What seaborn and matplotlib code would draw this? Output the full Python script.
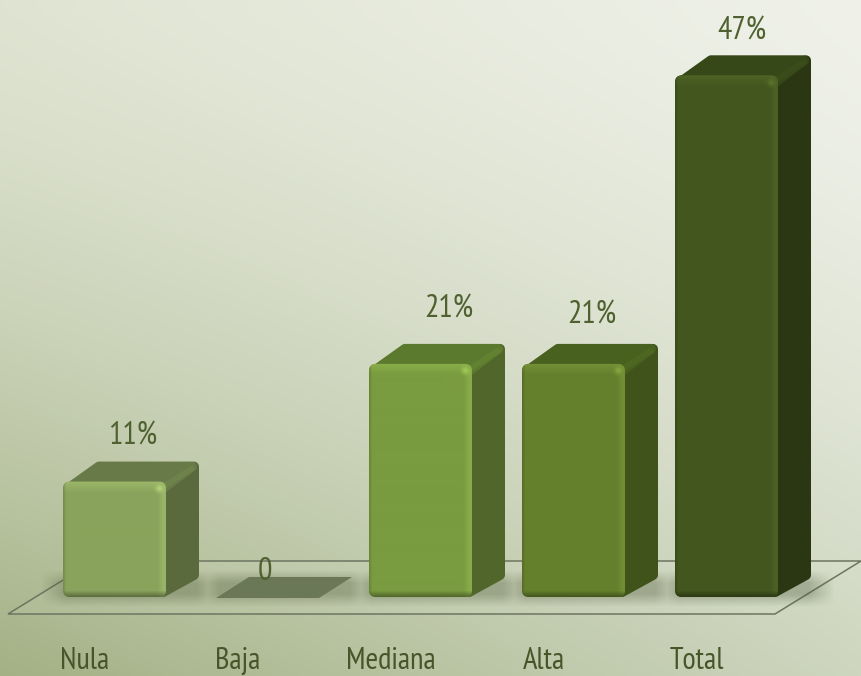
import numpy as np
import pandas as pd
import matplotlib
matplotlib.use("Agg")
import matplotlib.pyplot as plt
import seaborn as sns
from matplotlib.patches import Polygon, FancyBboxPatch
from matplotlib.colors import to_rgb
from matplotlib.transforms import ScaledTranslation
import logging
logging.getLogger("matplotlib.font_manager").setLevel(logging.ERROR)

# ---- data
categories = ["Nula", "Baja", "Mediana", "Alta", "Total"]
values = [10.4, 0, 21, 21, 47]
value_labels = ["11%", "0", "21%", "21%", "47%"]

# ---- styles
front_colors = ["#8aa35c", "#6b7857", "#7a9b40", "#65802d", "#43561e"]
side_colors = ["#5b6a3c", "#6b7857", "#50662b", "#3f531b", "#2b3713"]
top_colors = ["#687a48", "#6b7857", "#5c7a2e", "#49611f", "#374818"]
label_dx = [18, -2, 28, 18, 15]
label_dy = [45, 25, 54, 48, 44]
W, H = 861, 676
DEPTH_X, DEPTH_Y = 33, 20
TEXT = "#4f6130"
TICK_TEXT = "#46562a"

sns.set_theme(style="white")
plt.rcParams["font.family"] = ["PT Sans Narrow", "Asap Condensed", "DejaVu Sans"]

fig = plt.figure(figsize=(W / 100, H / 100), dpi=100)
ax_bg = fig.add_axes([0, 0, 1, 1], zorder=0)
ax = fig.add_axes([0, 36 / H, 1, 640 / H], zorder=1)
ax_top = fig.add_axes([0, 0, 1, 1], zorder=2)
for a in (ax_bg, ax_top):
    a.set_xlim(0, W)
    a.set_ylim(H, 0)
    a.axis("off")
ax_top.patch.set_alpha(0)
ax.patch.set_alpha(0)

# ---- background gradient
yy, xx = np.mgrid[0:1:H * 1j, 0:1:W * 1j]
c_tl, c_tr = np.array(to_rgb("#dfe4d2")), np.array(to_rgb("#f0f2ea"))
c_bl, c_br = np.array(to_rgb("#a3b185")), np.array(to_rgb("#ced6bf"))
s = xx[..., None]
t = yy[..., None] ** 1.4
bg = (1 - t) * ((1 - s) * c_tl + s * c_tr) + t * ((1 - s) * c_bl + s * c_br)
ax_bg.imshow(bg, extent=(0, W, H, 0), aspect="auto", zorder=0)
ax_bg.set_xlim(0, W)
ax_bg.set_ylim(H, 0)

# ---- bars through seaborn
df = pd.DataFrame({"cat": categories, "val": values})
sns.barplot(data=df, x="cat", y="val", hue="cat", palette=front_colors, legend=False,
            width=103 / 153, saturation=1, ax=ax, linewidth=0)
ax.set_xlim(-114.5 / 153, (W - 114.5) / 153)
ax.set_ylim(-43 / 11.1, 597 / 11.1)
ax.set_yticks([])
ax.set_xlabel("")
ax.set_ylabel("")
sns.despine(ax=ax, left=True, bottom=True)
ax.tick_params(axis="x", length=0, pad=5, labelsize=22, labelcolor=TICK_TEXT)
off = ScaledTranslation(-29.5 / 100, 0, fig.dpi_scale_trans)
for lab in ax.get_xticklabels():
    lab.set_transform(lab.get_transform() + off)


def to_px(x, y):
    px, py = ax.transData.transform((x, y))
    return px, H - py


bars = sorted([p for p in ax.patches], key=lambda p: p.get_x())
geom = []
for p in bars:
    x0, yb = to_px(p.get_x(), 0)
    x1, yt = to_px(p.get_x() + p.get_width(), p.get_height())
    geom.append((x0, x1, yt, yb))

# ---- floor
fx0, fx1 = geom[0][0] - 55, geom[-1][1] - 3
fy = geom[0][3] + 17
floor = [(fx0, fy), (fx1, fy), (fx1 + 86, fy - 53), (fx0 + 86, fy - 53)]
ax_bg.add_patch(Polygon(floor, closed=True, facecolor=(1, 1, 1, 0.06),
                        edgecolor="#6d7561", lw=1.1, zorder=1))


# ---- soft contact shadows on the floor
def soft(v, a, b, blur):
    return np.clip((v - a) / blur + 0.5, 0, 1) * np.clip((b - v) / blur + 0.5, 0, 1)


py, px = np.mgrid[0:H, 0:W]
sh = np.zeros((H, W))
for (x0, x1, yt, yb) in geom:
    sh = np.maximum(sh, soft(px, x0 - 10, x1 + DEPTH_X + 10, 26) * soft(py, yb - DEPTH_Y - 1, yb + 3, 13))
shadow = np.zeros((H, W, 4))
shadow[..., :3] = to_rgb("#4e5b3a")
shadow[..., 3] = sh * 0.36
ax_bg.imshow(shadow, extent=(0, W, H, 0), aspect="auto", zorder=2)
ax_bg.set_xlim(0, W)
ax_bg.set_ylim(H, 0)


def shade(color, k):
    return tuple(np.clip(np.array(to_rgb(color)) * k, 0, 1))


# ---- 3D faces and bevels, from each bar's geometry
for i, (x0, x1, yt, yb) in enumerate(geom):
    if yb - yt < 1:
        # zero-height bar: flat plate on the floor
        ax_bg.add_patch(Polygon([(x0, yb + 1), (x1, yb + 1), (x1 + DEPTH_X, yb - DEPTH_Y),
                                 (x0 + DEPTH_X, yb - DEPTH_Y)], closed=True,
                                facecolor=front_colors[i], edgecolor="none", zorder=3))
        bars[i].set_visible(False)
        continue
    r, ins = 7, 5
    lw = 2 * ins * 72 / 100
    ax_bg.add_patch(Polygon([(x1 - 10, yb - ins), (x1 - 3, yb - ins), (x1 + DEPTH_X - ins, yb - DEPTH_Y - ins + 3),
                             (x1 + DEPTH_X - ins, yt - DEPTH_Y + ins), (x1 - 10, yt + ins)],
                            closed=True, facecolor=side_colors[i], edgecolor=side_colors[i],
                            lw=lw, joinstyle="round", zorder=3))
    ax_bg.add_patch(Polygon([(x0 + 8, yt + 5), (x0 + DEPTH_X + 3, yt - DEPTH_Y + ins),
                             (x1 + DEPTH_X - ins - 2, yt - DEPTH_Y + ins), (x1 - 2, yt + 6)],
                            closed=True, facecolor=top_colors[i], edgecolor=top_colors[i],
                            lw=lw, joinstyle="round", zorder=4))
    # lit ridge between top and side faces
    ax_bg.plot([x1 - 1, x1 + DEPTH_X - 7], [yt + 4, yt - DEPTH_Y + 7], color=shade(top_colors[i], 1.12),
               lw=4, solid_capstyle="round", zorder=5, alpha=0.55)

    clip_main = FancyBboxPatch((x0 + r, H - yb + r), x1 - x0 - 2 * r, yb - yt - 2 * r,
                               boxstyle=f"round,pad={r},rounding_size={r}",
                               transform=None, facecolor="none", edgecolor="none")
    bars[i].set_clip_path(clip_main)

    # bevel shading over the front face
    w, h = int(round(x1 - x0)), int(round(yb - yt))
    vy, vx = np.mgrid[0:h, 0:w]
    base = np.array(to_rgb(front_colors[i]))
    light = np.clip(base * 1.1 + 0.015, 0, 1)
    dark = base * 0.62
    img = np.zeros((h, w, 3)) + base
    a_right = np.clip(1 - (w - 1 - vx - 2) / 6, 0, 1) * 0.85
    a_top = np.clip(1 - vy / 11, 0, 1)
    mix = np.maximum(a_right, a_top)[..., None]
    img = img * (1 - mix) + light * mix
    # darker thin rim on the left, and the lower edge
    a_left = np.clip(1 - vx / 3, 0, 1)[..., None] * 0.35
    img = img * (1 - a_left) + dark * a_left
    a_bot = np.clip(1 - (h - 1 - vy) / 6, 0, 1)[..., None] * 0.85
    img = img * (1 - a_bot) + dark * a_bot
    # bright point at the front top-right corner
    spot = np.exp(-(((vx - (w - 7)) ** 2 + (vy - 7) ** 2) / 14.0))[..., None] * 0.8
    img = img * (1 - spot) + np.clip(base * 1.3 + 0.03, 0, 1) * spot
    im = ax_top.imshow(img, extent=(x0, x1, yb, yt), aspect="auto", zorder=2)
    clip_top = FancyBboxPatch((x0 + r, H - yb + r), x1 - x0 - 2 * r, yb - yt - 2 * r,
                              boxstyle=f"round,pad={r},rounding_size={r}",
                              transform=None, facecolor="none", edgecolor="none")
    im.set_clip_path(clip_top)
ax_top.set_xlim(0, W)
ax_top.set_ylim(H, 0)

# ---- value labels
for i, (x0, x1, yt, yb) in enumerate(geom):
    ax_top.text((x0 + x1) / 2 + label_dx[i], yt - label_dy[i], value_labels[i],
                ha="center", va="center", fontsize=23, color=TEXT, zorder=5)

fig.savefig("out.png", dpi=100)
